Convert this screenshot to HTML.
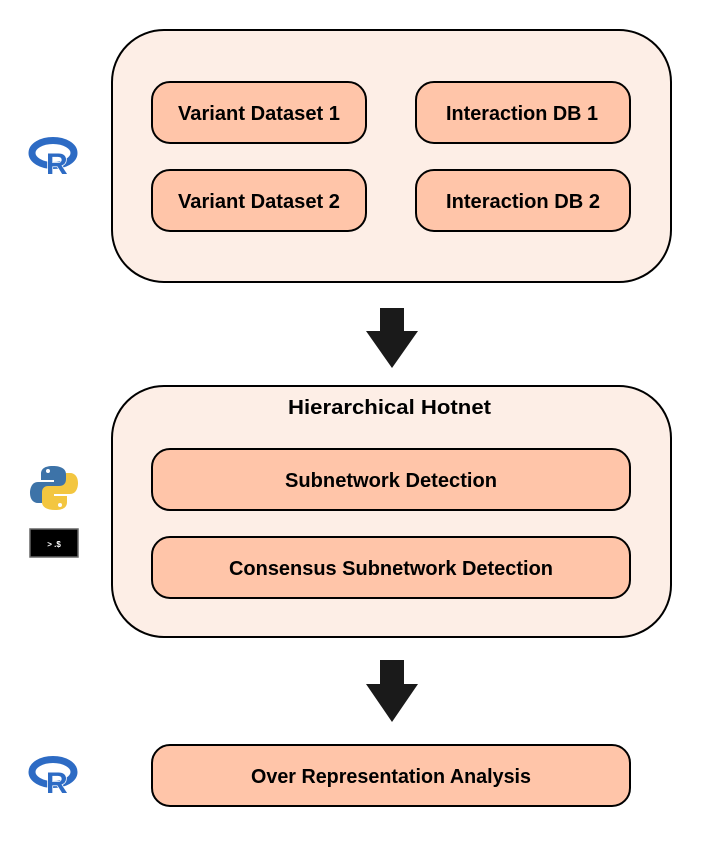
<!DOCTYPE html>
<html><head><meta charset="utf-8"><style>
body{margin:0;background:#fff}
svg text{font-family:"Liberation Sans",Arial,sans-serif;font-weight:bold;fill:#000}
</style></head><body>
<svg width="721" height="850" viewBox="0 0 721 850" xmlns="http://www.w3.org/2000/svg">
<g stroke="#000" stroke-width="2">
<rect x="112" y="30" width="559" height="252" rx="52" fill="#fdeee6"/>
<rect x="152" y="82" width="214" height="61" rx="18" fill="#ffc5a9"/>
<rect x="416" y="82" width="214" height="61" rx="18" fill="#ffc5a9"/>
<rect x="152" y="170" width="214" height="61" rx="18" fill="#ffc5a9"/>
<rect x="416" y="170" width="214" height="61" rx="18" fill="#ffc5a9"/>
<rect x="112" y="386" width="559" height="251" rx="52" fill="#fdeee6"/>
<rect x="152" y="449" width="478" height="61" rx="18" fill="#ffc5a9"/>
<rect x="152" y="537" width="478" height="61" rx="18" fill="#ffc5a9"/>
<rect x="152" y="745" width="478" height="61" rx="18" fill="#ffc5a9"/>
</g>
<polygon points="380,308 404,308 404,331 418,331 392,368 366,331 380,331" fill="#1a1a1a"/>
<polygon points="380,660 404,660 404,684 418,684 392,722 366,684 380,684" fill="#1a1a1a"/>
<g font-size="20">
<text x="178" y="120" textLength="162" lengthAdjust="spacingAndGlyphs">Variant Dataset 1</text>
<text x="446" y="120" textLength="152" lengthAdjust="spacingAndGlyphs">Interaction DB 1</text>
<text x="178" y="208" textLength="162" lengthAdjust="spacingAndGlyphs">Variant Dataset 2</text>
<text x="446" y="208" textLength="154" lengthAdjust="spacingAndGlyphs">Interaction DB 2</text>
<text x="288" y="414" textLength="203" lengthAdjust="spacingAndGlyphs">Hierarchical Hotnet</text>
<text x="285" y="487" textLength="212" lengthAdjust="spacingAndGlyphs">Subnetwork Detection</text>
<text x="229" y="575" textLength="324" lengthAdjust="spacingAndGlyphs">Consensus Subnetwork Detection</text>
<text x="251" y="783" textLength="280" lengthAdjust="spacingAndGlyphs">Over Representation Analysis</text>
</g>
<g id="r">
<ellipse cx="53" cy="153" rx="21" ry="12.5" fill="none" stroke="#2d6bc4" stroke-width="7"/>
<text x="46" y="174" font-size="30" style="fill:#2d6bc4;stroke:#fff;stroke-width:1.5;paint-order:stroke">R</text>
</g>
<use href="#r" y="619"/>
<path d="M53 466 c-10 0 -12 4 -12 8 v6 h13 v2 h-16 c-6 0 -8 6 -8 11 c0 6 3 10 8 10 h4 v-6 c0 -5 3 -7 7 -7 h11 c4 0 6 -3 6 -6 v-10 c0 -5 -5 -8 -13 -8z" fill="#3d73a8"/>
<path d="M55 510 c10 0 12 -4 12 -8 v-6 h-13 v-2 h16 c6 0 8 -6 8 -11 c0 -6 -3 -10 -8 -10 h-4 v6 c0 5 -3 7 -7 7 h-11 c-4 0 -6 3 -6 6 v10 c0 5 5 8 13 8z" fill="#f3c640"/>
<circle cx="48" cy="471" r="2" fill="#fff"/><circle cx="60" cy="505" r="2" fill="#fff"/>
<rect x="30" y="529" width="48" height="28" fill="#000" stroke="#666" stroke-width="1.5"/>
<text x="54" y="547" font-size="8" text-anchor="middle" style="fill:#fff">&gt; .$</text>
</svg>
</body></html>
